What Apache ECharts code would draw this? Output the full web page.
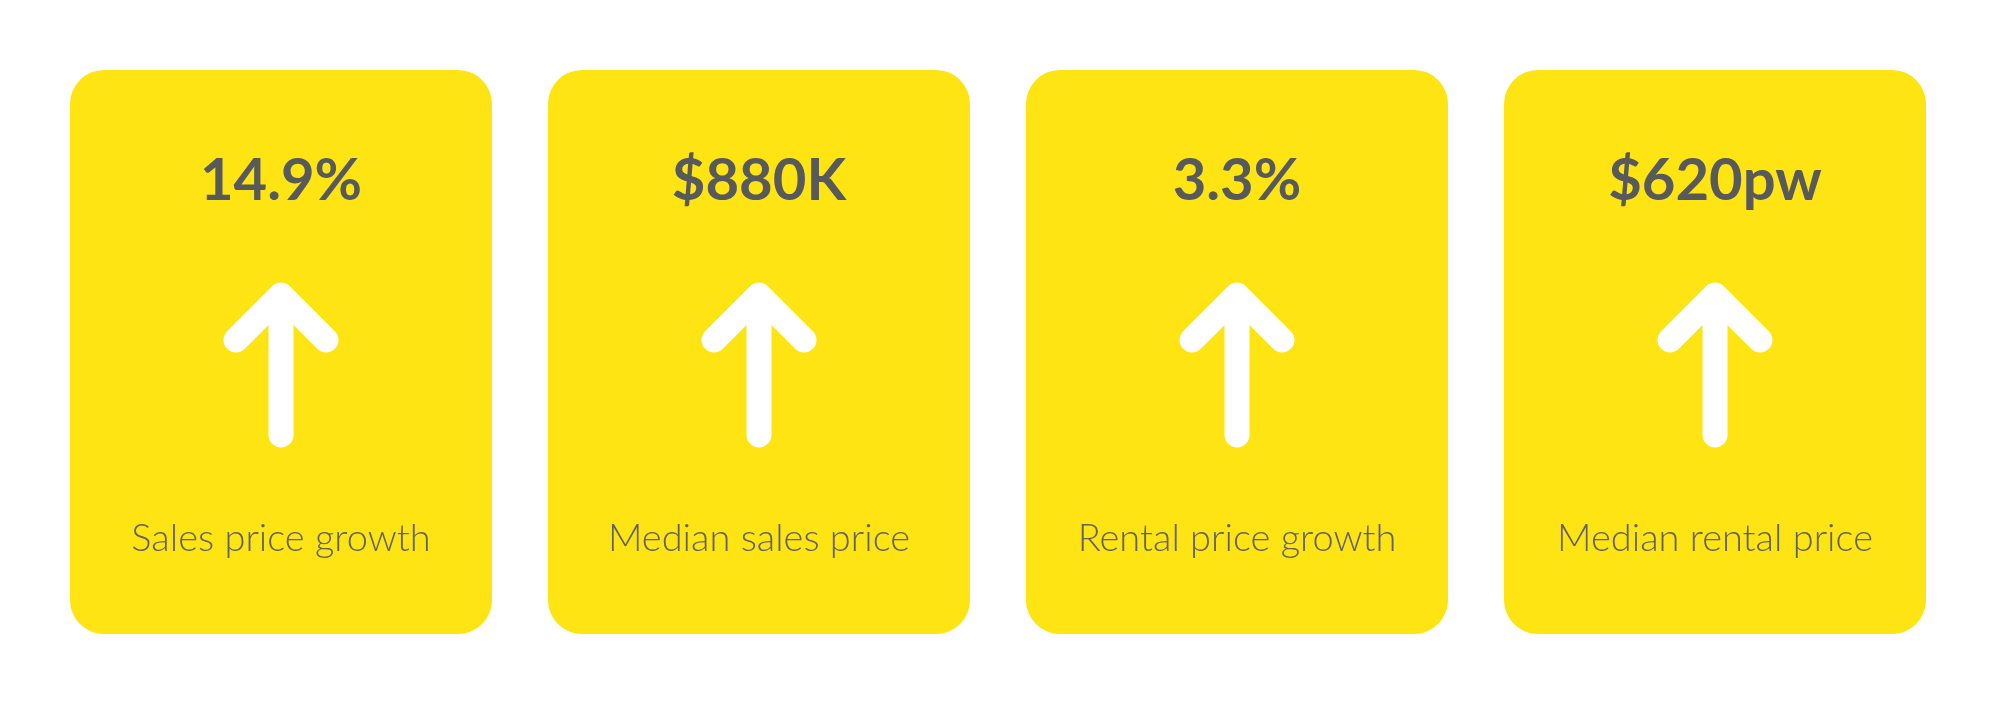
<!DOCTYPE html>
<html>
<head>
<meta charset="utf-8">
<script src="https://cdn.jsdelivr.net/npm/echarts@6/dist/echarts.min.js"></script>
<style>
html,body{margin:0;padding:0;background:#ffffff;}
#chart{width:2000px;height:707px;}
</style>
</head>
<body>
<div id="chart"></div>
<script>
const categories = ['Sales price growth', 'Median sales price', 'Rental price growth', 'Median rental price'];
const valueLabels = ['14.9%', '$880K', '3.3%', '$620pw'];
const directions = ['up', 'up', 'up', 'up'];

const chart = echarts.init(document.getElementById('chart'), null, {renderer: 'canvas'});

const seriesData = categories.map((c, i) => [i, 1]);

function renderCard(params, api) {
  const idx = api.value(0);
  const topPt = api.coord([idx, 1]);
  const botPt = api.coord([idx, 0]);
  const band = api.size([1, 0])[0];
  const w = band * 0.883;
  const cx = topPt[0];
  const top = topPt[1];
  const h = botPt[1] - topPt[1];
  const tipY = top + 225;
  const arm = 45;
  const shaftEnd = top + 365;
  const children = [
    {type: 'rect', shape: {x: cx - w / 2, y: top, width: w, height: h, r: 34},
     style: {fill: '#FEE412'}},
    {type: 'text', style: {text: valueLabels[idx], x: cx, y: top + 111, align: 'center', verticalAlign: 'middle',
      fontFamily: 'Lato', fontWeight: 'bold', fontSize: 58, fill: '#58595B'}},
    {type: 'polyline', shape: {points: [[cx - arm, tipY + arm], [cx, tipY], [cx + arm, tipY + arm]]},
     style: {stroke: '#FFFFFF', lineWidth: 25, lineCap: 'round', lineJoin: 'round', fill: null}},
    {type: 'line', shape: {x1: cx, y1: tipY + 2, x2: cx, y2: shaftEnd},
     style: {stroke: '#FFFFFF', lineWidth: 25, lineCap: 'round'}},
    {type: 'text', style: {text: categories[idx], x: cx, y: top + 469, align: 'center', verticalAlign: 'middle',
      fontFamily: 'Lato', fontWeight: 300, fontSize: 38, fill: '#626262'}}
  ];
  return {type: 'group', children: children};
}

chart.setOption({
  animation: false,
  backgroundColor: '#ffffff',
  grid: {left: 42, right: 46, top: 70, bottom: 73},
  xAxis: {type: 'category', data: categories, show: false},
  yAxis: {type: 'value', min: 0, max: 1, show: false},
  series: [{
    type: 'custom',
    renderItem: renderCard,
    data: seriesData,
    clip: false
  }]
});
</script>
</body>
</html>
